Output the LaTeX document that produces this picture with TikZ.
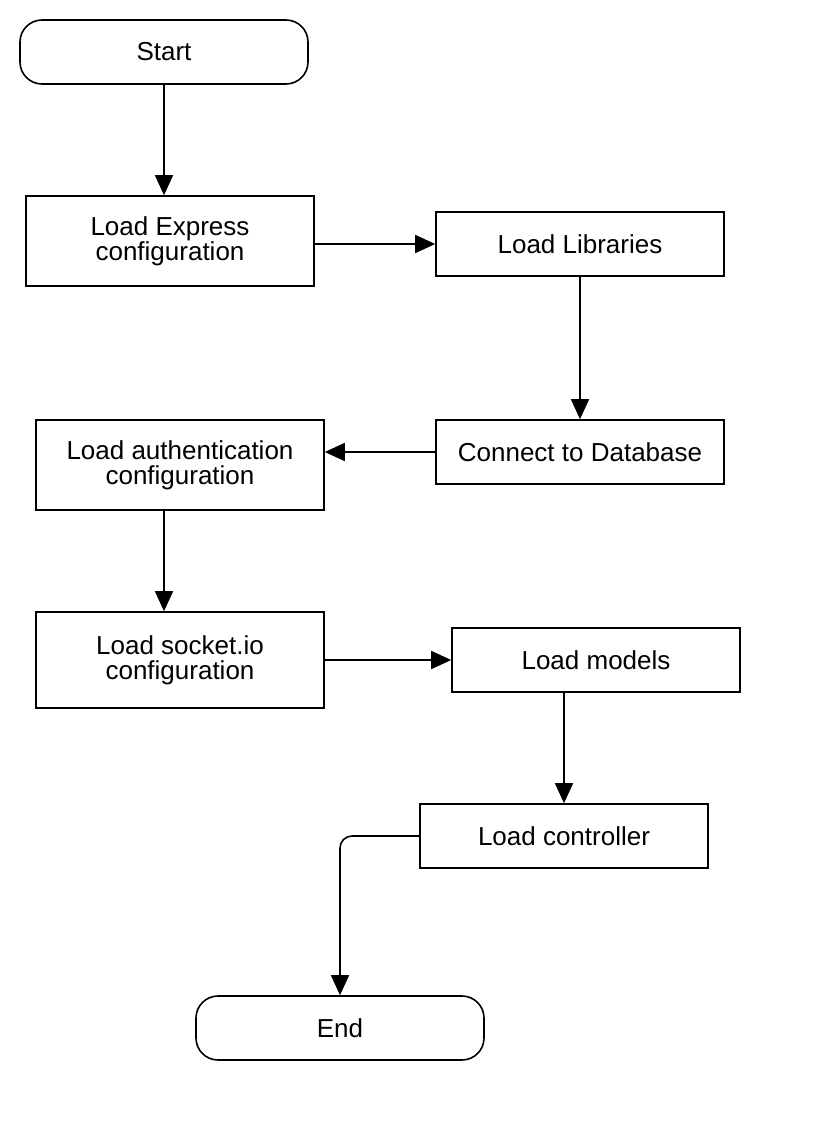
\documentclass[tikz,border=0pt]{standalone}
\usepackage{fontspec}
\setmainfont{Liberation Sans}
\usetikzlibrary{arrows.meta}
\tikzset{
    flow-box/.style = {draw, thick, rectangle, minimum width=144pt, minimum height=32pt, inner sep=2pt, align=center, font=\fontsize{13}{12.5}\selectfont},
    flow-term/.style = {flow-box, rounded corners=11pt},
    flow-arrow/.style = {thick, -{Triangle[length=10pt, width=9pt]}},
}

\begin{document}
\begin{tikzpicture}[x=0.5pt, y=-0.5pt]
\useasboundingbox (0,0) rectangle (820,1140);
\node [flow-term] (start) at (164,52) {Start};
\node [flow-box, minimum height=45pt] (express) at (170,241) {Load Express\\configuration};
\node [flow-box] (libs) at (580,244) {Load Libraries};
\node [flow-box] (db) at (580,452) {Connect to Database};
\node [flow-box, minimum height=45pt] (auth) at (180,465) {Load authentication\\configuration};
\node [flow-box, minimum height=48pt] (socket) at (180,660) {Load socket.io\\configuration};
\node [flow-box] (models) at (596,660) {Load models};
\node [flow-box] (ctrl) at (564,836) {Load controller};
\node [flow-term] (end) at (340,1028) {End};

\draw [flow-arrow] (start) -- (start |- express.north);
\draw [flow-arrow] (express.east |- libs) -- (libs.west);
\draw [flow-arrow] (libs) -- (db);
\draw [flow-arrow] (db.west) -- (db -| auth.east);
\draw [flow-arrow] ([xshift=-8pt]auth.south) -- ([xshift=-8pt]socket.north);
\draw [flow-arrow] (socket) -- (models);
\draw [flow-arrow] (models.south -| ctrl) -- (ctrl.north);
\draw [flow-arrow, rounded corners=6pt] (ctrl.west) -| (end.north);
\end{tikzpicture}
\end{document}
